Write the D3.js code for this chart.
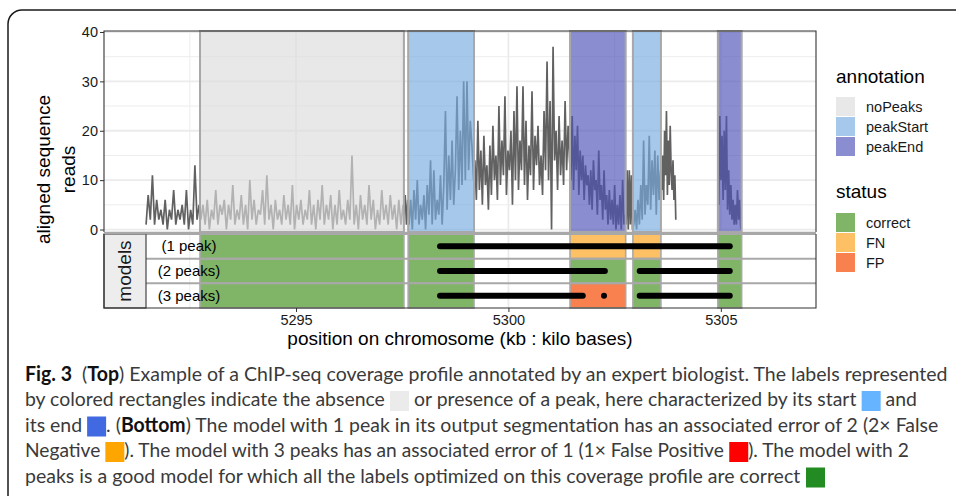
<!DOCTYPE html>
<html>
<head>
<meta charset="utf-8">
<script src="https://cdn.jsdelivr.net/npm/d3@7"></script>
<style>
  html, body { margin: 0; padding: 0; background: #fff; }
  svg { display: block; }
  text { font-family: "Liberation Sans", Arial, sans-serif; }
  .caption text { font-family: Lato, sans-serif; white-space: pre; }
</style>
</head>
<body>
<script>
// ---- axis ticks ----
const yTicks = [0, 10, 20, 30, 40];
const yMinorTicks = [5, 15, 25, 35];
const xTicks = [5295, 5300, 5305];
const xMinorTicks = [5292.5, 5297.5, 5302.5];

// ---- legend scales ----
const annotationNames = ['noPeaks', 'peakStart', 'peakEnd'];
const annotationColors = ['#DCDCDC', '#78ACDF', '#4E54B8'];
const statusNames = ['correct', 'FN', 'FP'];
const statusColors = ['#80B466', '#FDC064', '#F98150'];

// ---- expert labels (kb) ----
const labelStart = [5292.74, 5297.64, 5301.45, 5302.93, 5304.93];
const labelEnd = [5297.54, 5299.19, 5302.76, 5303.59, 5305.49];
const labelAnnotation = ['noPeaks', 'peakStart', 'peakEnd', 'peakStart', 'peakEnd'];

// ---- models ----
const modelNames = ['(1 peak)', '(2 peaks)', '(3 peaks)'];
const statusModel1 = ['correct', 'correct', 'FN', 'FN', 'correct'];
const statusModel2 = ['correct', 'correct', 'correct', 'correct', 'correct'];
const statusModel3 = ['correct', 'correct', 'FP', 'correct', 'correct'];
const peaksModel1 = [[5298.39, 5305.21]];
const peaksModel2 = [[5298.39, 5302.27], [5303.09, 5305.21]];
const peaksModel3 = [[5298.39, 5301.75], [5302.25, 5302.25], [5303.09, 5305.21]];
const modelLabelX = 5292.48;

// ---- coverage profile ----
const covStart = [5291.47, 5292.76, 5297.54, 5297.66, 5299.21, 5301.47, 5302.77, 5302.95, 5303.61, 5304.95];
const covEnd   = [5292.72, 5297.52, 5297.63, 5299.18, 5301.44, 5302.75, 5302.92, 5303.58, 5303.94, 5305.47];
const covLeft = [1,7,2,11,1,6,2,4,1,6,0,4,2,8,1,4,2,5,1,8,0,4,1,13,2,5];
const covNoPeaks = [2,5,1,6,0,4,2,8,1,5,3,6,0,5,2,9,1,4,2,7,1,5,0,10,2,6,1,4,3,8,1,11,2,5,0,6,2,4,1,7,2,5,1,9,0,5,2,6,1,4,2,8,1,5,0,6,2,9,1,5,2,7,0,5,1,8,2,4,1,6,2,15,1,5,0,7,2,5,1,9,2,6,0,4,1,8,2,5,1,7,2,5,0,6,1,5];
const covGap1 = [3,7,1,6];
const covStart1 = [1,6,0,8,2,10,1,5,2,7,0,9,3,14,1,12,2,6,3,11,1,9,24,4,15,6,18,5,12,27,8,20,9,30,10,30,12,22,17,10];
const covMid = [14,6,22,8,16,5,19,9,13,4,17,7,21,10,15,6,25,9,18,11,27,7,16,12,20,5,24,10,29,8,18,12,29,9,22,6,17,11,28,8,19,13,21,9,15,7,24,12,34,10,26,0,37,14,20,8,23,11,18,9,26,12,21,14];
const covEnd1 = [10,23,8,19,12,21,7,16,10,15,6,13,9,11,5,12,4,14,8,10,3,16,6,9,2,12,4,7,1,8,2,6,1,9,0,5,1,7,0,10,1,3];
const covGap2 = [1,12,0,12,1,11,0];
const covStart2 = [1,4,0,6,1,9,2,18,3,9,5,19,4,14,7,16,3,15,6,12];
const covRight = [8,15,6,20,11,24,7,18,9,21,12,8,14,6,11,2];
const covEnd2 = [5,23,10,19,6,20,8,23,4,12,3,9,2,6,1,5,1,8,2,6,0];

// ---- caption ----
const captionLines = [
    [{t: 'Fig. 3', b: true}, {t: '  ('}, {t: 'Top', b: true}, {t: ') Example of a ChIP-seq coverage profile annotated by an expert biologist. The labels represented'}],
    [{t: 'by colored rectangles indicate the absence '}, {box: '#EBEBEB'}, {t: ' or presence of a peak, here characterized by its start '}, {box: '#66B3FF'}, {t: ' and'}],
    [{t: 'its end '}, {box: '#4169E1'}, {t: '. ('}, {t: 'Bottom', b: true}, {t: ') The model with 1 peak in its output segmentation has an associated error of 2 (2\u00d7 False'}],
    [{t: 'Negative '}, {box: '#FFA500'}, {t: '). The model with 3 peaks has an associated error of 1 (1\u00d7 False Positive '}, {box: '#FF0000'}, {t: '). The model with 2'}],
    [{t: 'peaks is a good model for which all the labels optimized on this coverage profile are correct '}, {box: '#228B22'}]
];
const captionWidths = [923, 892, 914, 884, 800];

// ---- layout ----
const panelLeft = 104, panelRight = 816;
const topY0 = 31, topY1 = 232, botY0 = 234, botY1 = 308;
const gridColor = '#EBEBEB';
const edgeColor = '#A8A8A8';
const fillAlpha = 0.66;

const svg = d3.select('body').append('svg').attr('width', 956).attr('height', 496);

// caption frame
svg.append('rect')
    .attr('x', 8).attr('y', 10).attr('width', 1000).attr('height', 600).attr('rx', 14)
    .attr('fill', '#fff').attr('stroke', '#1a1a1a').attr('stroke-width', 1.5);

const x = d3.scaleLinear().domain([5290.48, 5307.24]).range([panelLeft, panelRight]);
const y = d3.scaleLinear().domain([-0.5, 40.2]).range([topY1, topY0]);
const row = d3.scaleBand().domain(modelNames).range([botY0, botY1]);
const annColor = d3.scaleOrdinal().domain(annotationNames).range(annotationColors);
const statColor = d3.scaleOrdinal().domain(statusNames).range(statusColors);

// ---------- top panel ----------
const topG = svg.append('g');
topG.append('rect')
    .attr('x', panelLeft).attr('y', topY0)
    .attr('width', panelRight - panelLeft).attr('height', topY1 - topY0)
    .attr('fill', '#fff');

topG.selectAll('.yminor').data(yMinorTicks).enter().append('line')
    .attr('x1', panelLeft).attr('x2', panelRight)
    .attr('y1', d => y(d)).attr('y2', d => y(d))
    .attr('stroke', gridColor).attr('stroke-width', 0.9);
topG.selectAll('.xminor').data(xMinorTicks).enter().append('line')
    .attr('x1', d => x(d)).attr('x2', d => x(d))
    .attr('y1', topY0).attr('y2', topY1)
    .attr('stroke', gridColor).attr('stroke-width', 0.9);
topG.selectAll('.ymajor').data(yTicks).enter().append('line')
    .attr('x1', panelLeft).attr('x2', panelRight)
    .attr('y1', d => y(d)).attr('y2', d => y(d))
    .attr('stroke', gridColor).attr('stroke-width', 1.8);
topG.selectAll('.xmajor').data(xTicks).enter().append('line')
    .attr('x1', d => x(d)).attr('x2', d => x(d))
    .attr('y1', topY0).attr('y2', topY1)
    .attr('stroke', gridColor).attr('stroke-width', 1.8);

// coverage: contiguous regions are joined in one path
const covValues = [covLeft, covNoPeaks, covGap1, covStart1, covMid, covEnd1, covGap2, covStart2, covRight, covEnd2];
const covPaths = [];
let current = [];
covValues.forEach((vals, i) => {
    if (i > 0 && covStart[i] - covEnd[i - 1] > 0.2) {
        covPaths.push(current);
        current = [];
    }
    const step = (covEnd[i] - covStart[i]) / (vals.length - 1);
    vals.forEach((v, j) => current.push([covStart[i] + j * step, v]));
});
covPaths.push(current);

const covLine = d3.line().x(d => x(d[0])).y(d => y(d[1]));
topG.selectAll('.cov').data(covPaths).enter().append('path')
    .attr('d', covLine)
    .attr('fill', 'none')
    .attr('stroke', '#616161')
    .attr('stroke-width', 1.7)
    .attr('stroke-linejoin', 'bevel');

// annotation rectangles over the profile
const labelIdx = d3.range(labelStart.length);
topG.selectAll('.ann').data(labelIdx).enter().append('rect')
    .attr('x', i => x(labelStart[i]))
    .attr('width', i => x(labelEnd[i]) - x(labelStart[i]))
    .attr('y', topY0).attr('height', topY1 - topY0)
    .attr('fill', i => annColor(labelAnnotation[i]))
    .attr('fill-opacity', fillAlpha)
    .attr('stroke', edgeColor).attr('stroke-width', 2);

topG.append('path')
    .attr('d', `M${panelLeft},${topY1}V${topY0}H${panelRight}V${topY1}`)
    .attr('fill', 'none').attr('stroke', '#333').attr('stroke-width', 1.1);

// y axis
const yAxis = svg.append('g')
    .attr('transform', `translate(${panelLeft},0)`)
    .call(d3.axisLeft(y).tickValues(yTicks).tickSize(4).tickPadding(2));
yAxis.select('.domain').remove();
yAxis.selectAll('line').attr('stroke', '#333');
yAxis.selectAll('text')
    .style('font-family', '"Liberation Sans", Arial, sans-serif')
    .style('font-size', '14.5px').attr('fill', '#1a1a1a');

// ---------- bottom panel ----------
const botG = svg.append('g');
botG.append('rect')
    .attr('x', panelLeft).attr('y', botY0)
    .attr('width', panelRight - panelLeft).attr('height', botY1 - botY0)
    .attr('fill', '#fff');
botG.selectAll('.bxminor').data(xMinorTicks).enter().append('line')
    .attr('x1', d => x(d)).attr('x2', d => x(d))
    .attr('y1', botY0).attr('y2', botY1)
    .attr('stroke', gridColor).attr('stroke-width', 0.9);
botG.selectAll('.bxmajor').data(xTicks).enter().append('line')
    .attr('x1', d => x(d)).attr('x2', d => x(d))
    .attr('y1', botY0).attr('y2', botY1)
    .attr('stroke', gridColor).attr('stroke-width', 1.8);

const statusRows = [statusModel1, statusModel2, statusModel3];
const tiles = [];
statusRows.forEach((st, m) => st.forEach((s, i) => tiles.push({m: modelNames[m], i: i, s: s})));
botG.selectAll('.tile').data(tiles).enter().append('rect')
    .attr('x', d => x(labelStart[d.i]))
    .attr('width', d => x(labelEnd[d.i]) - x(labelStart[d.i]))
    .attr('y', d => row(d.m)).attr('height', row.bandwidth())
    .attr('fill', d => statColor(d.s))
    .attr('stroke', edgeColor).attr('stroke-width', 1.6);

// row separators
const rowEdges = modelNames.map(m => row(m));
botG.selectAll('.rowsep').data(rowEdges).enter().append('line')
    .attr('x1', panelLeft).attr('x2', panelRight)
    .attr('y1', d => d).attr('y2', d => d)
    .attr('stroke', edgeColor).attr('stroke-width', 2);
svg.append('line')
    .attr('x1', panelLeft).attr('x2', panelRight)
    .attr('y1', (topY1 + botY0) / 2).attr('y2', (topY1 + botY0) / 2)
    .attr('stroke', edgeColor).attr('stroke-width', 2.5);

// model segments
const peakRows = [peaksModel1, peaksModel2, peaksModel3];
const segs = [];
peakRows.forEach((p, m) => p.forEach(s => segs.push({m: modelNames[m], a: s[0], b: s[1]})));
const yc = d => row(d.m) + row.bandwidth() / 2;
botG.selectAll('.seg').data(segs.filter(d => d.b > d.a)).enter().append('line')
    .attr('x1', d => x(d.a)).attr('x2', d => x(d.b))
    .attr('y1', yc).attr('y2', yc)
    .attr('stroke', '#000').attr('stroke-width', 6).attr('stroke-linecap', 'round');
botG.selectAll('.dot').data(segs.filter(d => d.b === d.a)).enter().append('circle')
    .attr('cx', d => x(d.a)).attr('cy', yc).attr('r', 3)
    .attr('fill', '#000');

botG.selectAll('.mlabel').data(modelNames).enter().append('text')
    .attr('x', x(modelLabelX))
    .attr('y', d => row(d) + row.bandwidth() / 2 + 5)
    .attr('text-anchor', 'middle')
    .style('font-size', '15px').attr('fill', '#000')
    .text(d => d);

// strip
botG.append('rect')
    .attr('x', panelLeft).attr('y', botY0)
    .attr('width', 42).attr('height', botY1 - botY0)
    .attr('fill', '#EDEDED').attr('stroke', '#333').attr('stroke-width', 1.1);
botG.append('text')
    .attr('transform', `translate(${panelLeft + 27},${(botY0 + botY1) / 2}) rotate(-90)`)
    .attr('text-anchor', 'middle')
    .style('font-size', '19px').attr('fill', '#1a1a1a')
    .text('models');

botG.append('path')
    .attr('d', `M${panelLeft},${botY0}V${botY1}H${panelRight}V${botY0}`)
    .attr('fill', 'none').attr('stroke', '#333').attr('stroke-width', 1.1);

// x axis
const xAxis = svg.append('g')
    .attr('transform', `translate(0,${botY1})`)
    .call(d3.axisBottom(x).tickValues(xTicks).tickFormat(d3.format('d')).tickSize(4).tickPadding(3));
xAxis.select('.domain').remove();
xAxis.selectAll('line').attr('stroke', '#333');
xAxis.selectAll('text')
    .style('font-family', '"Liberation Sans", Arial, sans-serif')
    .style('font-size', '14.5px').attr('fill', '#1a1a1a');

// axis titles
svg.append('text')
    .attr('x', (panelLeft + panelRight) / 2).attr('y', 345)
    .attr('text-anchor', 'middle')
    .style('font-size', '19px').attr('fill', '#000')
    .text('position on chromosome (kb : kilo bases)');
const yTitle = svg.append('text')
    .attr('transform', `translate(0,${(topY0 + botY1) / 2}) rotate(-90)`)
    .attr('text-anchor', 'middle')
    .style('font-size', '19px').attr('fill', '#000');
yTitle.append('tspan').attr('x', 0).attr('y', 50).text('aligned sequence');
yTitle.append('tspan').attr('x', 0).attr('y', 75).text('reads');

// ---------- legends ----------
const legendX = 836;
function legend(title, names, colors, titleY, keyY, alpha) {
    const g = svg.append('g');
    g.append('text').attr('x', legendX).attr('y', titleY)
        .style('font-size', '19px').attr('fill', '#000').text(title);
    names.forEach((n, i) => {
        g.append('rect')
            .attr('x', legendX).attr('y', keyY + i * 20)
            .attr('width', 19).attr('height', 19)
            .attr('fill', colors[i]).attr('fill-opacity', alpha);
        g.append('text')
            .attr('x', legendX + 30).attr('y', keyY + i * 20 + 15)
            .style('font-size', '14.5px').attr('fill', '#1a1a1a').text(n);
    });
}
legend('annotation', annotationNames, annotationColors, 83, 97, fillAlpha);
legend('status', statusNames, statusColors, 198, 213, 1);

// ---------- caption: each line laid out at natural width, then squeezed to the reference width ----------
const cap = svg.append('g').attr('class', 'caption');
const capX = 25, capBase = 380.5, capLead = 25.5, boxW = 19;
captionLines.forEach((pieces, li) => {
    const base = capBase + li * capLead;
    const g = cap.append('g');
    const els = pieces.map(p => {
        if (p.box) return {p: p};
        const t = g.append('text')
            .attr('xml:space', 'preserve')
            .attr('y', 0)
            .style('font-size', '20px')
            .style('font-weight', p.b ? 700 : 400)
            .attr('fill', p.b ? '#111' : '#3a3a3a')
            .text(p.t);
        return {p: p, el: t, w: t.node().getComputedTextLength()};
    });
    const textW = d3.sum(els.filter(e => e.el), e => e.w);
    const boxTotal = boxW * els.filter(e => !e.el).length;
    const s = (captionWidths[li] - boxTotal) / textW;
    let cx = 0;
    els.forEach(e => {
        if (e.el) {
            e.el.attr('x', cx);
            cx += e.w;
        } else {
            g.append('rect')
                .attr('x', cx).attr('y', -15)
                .attr('width', boxW / s).attr('height', 20)
                .attr('fill', e.p.box);
            cx += boxW / s;
        }
    });
    g.attr('transform', `translate(${capX},${base}) scale(${s},1)`);
});
</script>
</body>
</html>
